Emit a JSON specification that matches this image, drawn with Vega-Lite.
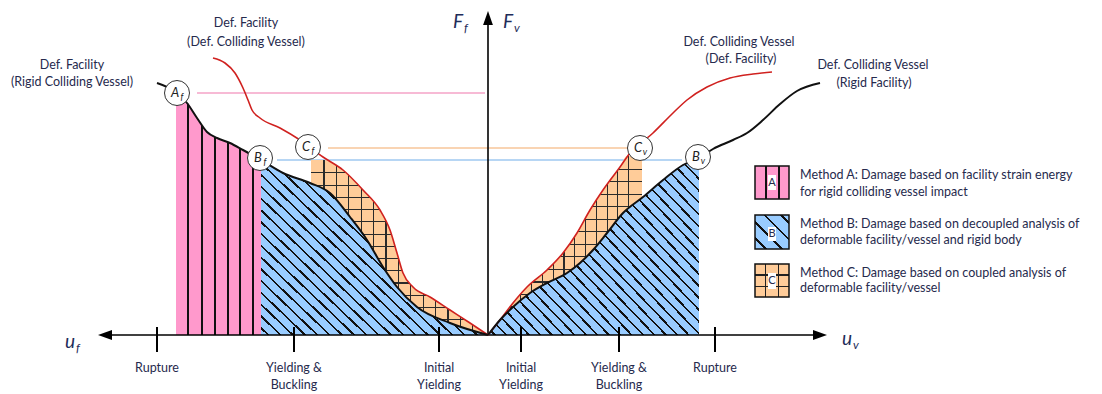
{
"$schema":"https://vega.github.io/schema/vega-lite/v6.json",
"width":1102,"height":394,"padding":0,"autosize":{"type":"none"},
"background":"white",
"config":{"view":{"stroke":null}},
"encoding":{
 "x":{"field":"u","type":"quantitative","scale":{"domain":[-488,614],"nice":false,"zero":false},"axis":null},
 "y":{"field":"F","type":"quantitative","stack":null,"scale":{"domain":[-59,335],"nice":false,"zero":false},"axis":null}
},
"datasets":{
 "black":[
  {"s":"L","u":-331,"F":252},{"s":"L","u":-311,"F":242},{"s":"L","u":-301,"F":232},{"s":"L","u":-291,"F":217},{"s":"L","u":-281,"F":203},{"s":"L","u":-271,"F":197},{"s":"L","u":-258,"F":192},{"s":"L","u":-245,"F":185},{"s":"L","u":-227,"F":175},{"s":"L","u":-205,"F":162},{"s":"L","u":-178,"F":152},{"s":"L","u":-158,"F":142},{"s":"L","u":-138,"F":118},{"s":"L","u":-121,"F":95},{"s":"L","u":-105,"F":68},{"s":"L","u":-91,"F":48},{"s":"L","u":-71,"F":28},{"s":"L","u":-38,"F":12},{"s":"L","u":0,"F":0},
  {"s":"R","u":0,"F":0},{"s":"R","u":12,"F":15},{"s":"R","u":25,"F":28},{"s":"R","u":42,"F":42},{"s":"R","u":59,"F":52},{"s":"R","u":79,"F":62},{"s":"R","u":92,"F":72},{"s":"R","u":105,"F":85},{"s":"R","u":119,"F":102},{"s":"R","u":135,"F":122},{"s":"R","u":155,"F":138},{"s":"R","u":175,"F":155},{"s":"R","u":195,"F":170},{"s":"R","u":211,"F":177},{"s":"R","u":225,"F":186},{"s":"R","u":245,"F":195},{"s":"R","u":259,"F":202},{"s":"R","u":275,"F":215},{"s":"R","u":292,"F":231},{"s":"R","u":309,"F":244},{"s":"R","u":332,"F":252}
 ],
 "blue":[
  {"s":"L","u":-227,"F":175},{"s":"L","u":-205,"F":162},{"s":"L","u":-178,"F":152},{"s":"L","u":-158,"F":142},{"s":"L","u":-138,"F":118},{"s":"L","u":-121,"F":95},{"s":"L","u":-105,"F":68},{"s":"L","u":-91,"F":48},{"s":"L","u":-71,"F":28},{"s":"L","u":-38,"F":12},{"s":"L","u":0,"F":0},
  {"s":"R","u":0,"F":0},{"s":"R","u":12,"F":15},{"s":"R","u":25,"F":28},{"s":"R","u":42,"F":42},{"s":"R","u":59,"F":52},{"s":"R","u":79,"F":62},{"s":"R","u":92,"F":72},{"s":"R","u":105,"F":85},{"s":"R","u":119,"F":102},{"s":"R","u":135,"F":122},{"s":"R","u":155,"F":138},{"s":"R","u":175,"F":155},{"s":"R","u":195,"F":170},{"s":"R","u":211,"F":177}
 ],
 "pink":[
  {"u":-312,"F":233},{"u":-301,"F":232},{"u":-291,"F":217},{"u":-281,"F":203},{"u":-271,"F":197},{"u":-258,"F":192},{"u":-245,"F":185},{"u":-227,"F":175}
 ],
 "red":[
  {"s":"L","u":-275,"F":277},{"s":"L","u":-263,"F":272},{"s":"L","u":-253,"F":262},{"s":"L","u":-245,"F":247},{"s":"L","u":-240,"F":235},{"s":"L","u":-236,"F":225},{"s":"L","u":-228,"F":217},{"s":"L","u":-208,"F":207},{"s":"L","u":-188,"F":195},{"s":"L","u":-165,"F":178},{"s":"L","u":-145,"F":165},{"s":"L","u":-125,"F":145},{"s":"L","u":-108,"F":125},{"s":"L","u":-98,"F":105},{"s":"L","u":-91,"F":82},{"s":"L","u":-85,"F":62},{"s":"L","u":-75,"F":48},{"s":"L","u":-58,"F":38},{"s":"L","u":-38,"F":25},{"s":"L","u":-18,"F":12},{"s":"L","u":0,"F":0},
  {"s":"R","u":0,"F":0},{"s":"R","u":12,"F":15},{"s":"R","u":25,"F":32},{"s":"R","u":39,"F":48},{"s":"R","u":59,"F":65},{"s":"R","u":75,"F":82},{"s":"R","u":89,"F":102},{"s":"R","u":102,"F":125},{"s":"R","u":115,"F":145},{"s":"R","u":132,"F":168},{"s":"R","u":142,"F":182},{"s":"R","u":165,"F":202},{"s":"R","u":185,"F":222},{"s":"R","u":199,"F":235},{"s":"R","u":219,"F":248},{"s":"R","u":242,"F":257},{"s":"R","u":265,"F":261},{"s":"R","u":284,"F":263}
 ],
 "orange":[
  {"s":"L","u":-177,"F":175},{"s":"L","u":-164,"F":175},{"s":"L","u":-145,"F":165},{"s":"L","u":-125,"F":145},{"s":"L","u":-108,"F":125},{"s":"L","u":-98,"F":105},{"s":"L","u":-91,"F":82},{"s":"L","u":-85,"F":62},{"s":"L","u":-75,"F":48},{"s":"L","u":-58,"F":38},{"s":"L","u":-38,"F":25},{"s":"L","u":-18,"F":12},{"s":"L","u":0,"F":0},
  {"s":"R","u":0,"F":0},{"s":"R","u":12,"F":15},{"s":"R","u":25,"F":32},{"s":"R","u":39,"F":48},{"s":"R","u":59,"F":65},{"s":"R","u":75,"F":82},{"s":"R","u":89,"F":102},{"s":"R","u":102,"F":125},{"s":"R","u":115,"F":145},{"s":"R","u":132,"F":168},{"s":"R","u":139,"F":179},{"s":"R","u":154,"F":179}
 ],
 "refs":[
  {"m":"A","u":-291,"u2":-3,"F":242},{"m":"C","u":-160,"u2":140,"F":187},{"m":"B","u":-211,"u2":194,"F":175}
 ],
 "axes":[
  {"u":-383,"u2":332,"F":0,"F2":0},{"u":0,"u2":0,"F":0,"F2":317}
 ],
 "ticks":[
  {"u":-331,"F":8,"F2":-17},{"u":-194,"F":8,"F2":-17},{"u":-49,"F":8,"F2":-17},{"u":33,"F":8,"F2":-17},{"u":131,"F":8,"F2":-17},{"u":227,"F":8,"F2":-17}
 ],
 "arrows":[
  {"d":"left","u":-383,"F":0},{"d":"right","u":332,"F":0},{"d":"up","u":0,"F":317}
 ],
 "circles":[
  {"u":-311,"F":242,"t":"A","s":"f"},{"u":-228,"F":177,"t":"B","s":"f"},{"u":-180,"F":188,"t":"C","s":"f"},{"u":152,"F":187,"t":"C","s":"v"},{"u":210,"F":178,"t":"B","s":"v"}
 ],
 "labels":[
  {"u":-242,"F":312,"t":"Def. Facility"},{"u":-242,"F":293,"t":"(Def. Colliding Vessel)"},
  {"u":-416,"F":270,"t":"Def. Facility"},{"u":-416,"F":253,"t":"(Rigid Colliding Vessel)"},
  {"u":251,"F":293,"t":"Def. Colliding Vessel"},{"u":253,"F":276,"t":"(Def. Facility)"},
  {"u":385,"F":270,"t":"Def. Colliding Vessel"},{"u":386,"F":252,"t":"(Rigid Facility)"},
  {"u":-331,"F":-33,"t":"Rupture"},
  {"u":-194,"F":-33,"t":"Yielding &"},{"u":-194,"F":-50,"t":"Buckling"},
  {"u":-49,"F":-33,"t":"Initial"},{"u":-49,"F":-50,"t":"Yielding"},
  {"u":33,"F":-33,"t":"Initial"},{"u":33,"F":-50,"t":"Yielding"},
  {"u":131,"F":-33,"t":"Yielding &"},{"u":131,"F":-50,"t":"Buckling"},
  {"u":227,"F":-33,"t":"Rupture"}
 ],
 "legendText":[
  {"u":312,"F":160,"t":"Method A: Damage based on facility strain energy"},
  {"u":312,"F":143,"t":"for rigid colliding vessel impact"},
  {"u":312,"F":111,"t":"Method B: Damage based on decoupled analysis of"},
  {"u":312,"F":95,"t":"deformable facility/vessel and rigid body"},
  {"u":312,"F":62,"t":"Method C: Damage based on coupled analysis of"},
  {"u":312,"F":47,"t":"deformable facility/vessel"}
 ],
 "lbox":[
  {"m":"A","u":267,"u2":301,"F":169,"F2":136},
  {"m":"B","u":267,"u2":301,"F":120,"F2":86},
  {"m":"C","u":267,"u2":301,"F":71,"F2":38}
 ],
 "lwhite":[
  {"u":280,"u2":288,"F":145,"F2":160},
  {"u":280,"u2":288,"F":94,"F2":108},
  {"u":280,"u2":288,"F":46,"F2":62}
 ],
 "lletters":[
  {"u":284,"F":152.5,"t":"A"},{"u":284,"F":101,"t":"B"},{"u":284,"F":54,"t":"C"}
 ],
 "math":[
  {"u":-35,"F":307,"t":"F","s":"f"},{"u":15,"F":307,"t":"F","s":"v"},{"u":-423,"F":-13,"t":"u","s":"f"},{"u":354,"F":-10,"t":"u","s":"v"}
 ]
},
"layer":[
 {"data":{"name":"refs"},"mark":{"type":"rule","strokeWidth":1.3},"encoding":{"x2":{"field":"u2"},"color":{"field":"m","type":"nominal","scale":{"domain":["A","B","C"],"range":["#f5a3c7","#9fc8f0","#f7c69a"]},"legend":null}}},
 {"data":{"name":"orange"},"mark":{"type":"area","interpolate":"monotone","fill":{"gradient":"linear","x1":0,"y1":0,"x2":1,"y2":0,"stops":[
  {"offset":0,"color":"#fc9"},
  {"offset":0.07,"color":"#fc9"},{"offset":0.07,"color":"#2a2a2a"},{"offset":0.077,"color":"#2a2a2a"},{"offset":0.077,"color":"#fc9"},
  {"offset":0.14,"color":"#fc9"},{"offset":0.14,"color":"#2a2a2a"},{"offset":0.147,"color":"#2a2a2a"},{"offset":0.147,"color":"#fc9"},
  {"offset":0.21,"color":"#fc9"},{"offset":0.21,"color":"#2a2a2a"},{"offset":0.217,"color":"#2a2a2a"},{"offset":0.217,"color":"#fc9"},
  {"offset":0.28,"color":"#fc9"},{"offset":0.28,"color":"#2a2a2a"},{"offset":0.287,"color":"#2a2a2a"},{"offset":0.287,"color":"#fc9"},
  {"offset":0.35,"color":"#fc9"},{"offset":0.35,"color":"#2a2a2a"},{"offset":0.357,"color":"#2a2a2a"},{"offset":0.357,"color":"#fc9"},
  {"offset":0.42,"color":"#fc9"},{"offset":0.42,"color":"#2a2a2a"},{"offset":0.427,"color":"#2a2a2a"},{"offset":0.427,"color":"#fc9"},
  {"offset":0.49,"color":"#fc9"},{"offset":0.49,"color":"#2a2a2a"},{"offset":0.497,"color":"#2a2a2a"},{"offset":0.497,"color":"#fc9"},
  {"offset":0.56,"color":"#fc9"},{"offset":0.56,"color":"#2a2a2a"},{"offset":0.567,"color":"#2a2a2a"},{"offset":0.567,"color":"#fc9"},
  {"offset":0.63,"color":"#fc9"},{"offset":0.63,"color":"#2a2a2a"},{"offset":0.637,"color":"#2a2a2a"},{"offset":0.637,"color":"#fc9"},
  {"offset":0.7,"color":"#fc9"},{"offset":0.7,"color":"#2a2a2a"},{"offset":0.707,"color":"#2a2a2a"},{"offset":0.707,"color":"#fc9"},
  {"offset":0.77,"color":"#fc9"},{"offset":0.77,"color":"#2a2a2a"},{"offset":0.777,"color":"#2a2a2a"},{"offset":0.777,"color":"#fc9"},
  {"offset":0.84,"color":"#fc9"},{"offset":0.84,"color":"#2a2a2a"},{"offset":0.847,"color":"#2a2a2a"},{"offset":0.847,"color":"#fc9"},
  {"offset":0.91,"color":"#fc9"},{"offset":0.91,"color":"#2a2a2a"},{"offset":0.917,"color":"#2a2a2a"},{"offset":0.917,"color":"#fc9"},
  {"offset":1,"color":"#fc9"}]}},"encoding":{"y2":{"datum":0},"detail":{"field":"s"}}},
 {"data":{"name":"orange"},"mark":{"type":"area","interpolate":"monotone","fill":{"gradient":"linear","x1":0,"y1":0,"x2":0,"y2":1,"stops":[
  {"offset":0,"color":"rgba(0,0,0,0)"},
  {"offset":0.07,"color":"rgba(0,0,0,0)"},{"offset":0.07,"color":"#2a2a2a"},{"offset":0.077,"color":"#2a2a2a"},{"offset":0.077,"color":"rgba(0,0,0,0)"},
  {"offset":0.14,"color":"rgba(0,0,0,0)"},{"offset":0.14,"color":"#2a2a2a"},{"offset":0.147,"color":"#2a2a2a"},{"offset":0.147,"color":"rgba(0,0,0,0)"},
  {"offset":0.21,"color":"rgba(0,0,0,0)"},{"offset":0.21,"color":"#2a2a2a"},{"offset":0.217,"color":"#2a2a2a"},{"offset":0.217,"color":"rgba(0,0,0,0)"},
  {"offset":0.28,"color":"rgba(0,0,0,0)"},{"offset":0.28,"color":"#2a2a2a"},{"offset":0.287,"color":"#2a2a2a"},{"offset":0.287,"color":"rgba(0,0,0,0)"},
  {"offset":0.35,"color":"rgba(0,0,0,0)"},{"offset":0.35,"color":"#2a2a2a"},{"offset":0.357,"color":"#2a2a2a"},{"offset":0.357,"color":"rgba(0,0,0,0)"},
  {"offset":0.42,"color":"rgba(0,0,0,0)"},{"offset":0.42,"color":"#2a2a2a"},{"offset":0.427,"color":"#2a2a2a"},{"offset":0.427,"color":"rgba(0,0,0,0)"},
  {"offset":0.49,"color":"rgba(0,0,0,0)"},{"offset":0.49,"color":"#2a2a2a"},{"offset":0.497,"color":"#2a2a2a"},{"offset":0.497,"color":"rgba(0,0,0,0)"},
  {"offset":0.56,"color":"rgba(0,0,0,0)"},{"offset":0.56,"color":"#2a2a2a"},{"offset":0.567,"color":"#2a2a2a"},{"offset":0.567,"color":"rgba(0,0,0,0)"},
  {"offset":0.63,"color":"rgba(0,0,0,0)"},{"offset":0.63,"color":"#2a2a2a"},{"offset":0.637,"color":"#2a2a2a"},{"offset":0.637,"color":"rgba(0,0,0,0)"},
  {"offset":0.7,"color":"rgba(0,0,0,0)"},{"offset":0.7,"color":"#2a2a2a"},{"offset":0.707,"color":"#2a2a2a"},{"offset":0.707,"color":"rgba(0,0,0,0)"},
  {"offset":0.77,"color":"rgba(0,0,0,0)"},{"offset":0.77,"color":"#2a2a2a"},{"offset":0.777,"color":"#2a2a2a"},{"offset":0.777,"color":"rgba(0,0,0,0)"},
  {"offset":0.84,"color":"rgba(0,0,0,0)"},{"offset":0.84,"color":"#2a2a2a"},{"offset":0.847,"color":"#2a2a2a"},{"offset":0.847,"color":"rgba(0,0,0,0)"},
  {"offset":0.91,"color":"rgba(0,0,0,0)"},{"offset":0.91,"color":"#2a2a2a"},{"offset":0.917,"color":"#2a2a2a"},{"offset":0.917,"color":"rgba(0,0,0,0)"},
  {"offset":1,"color":"rgba(0,0,0,0)"}]}},"encoding":{"y2":{"datum":0},"detail":{"field":"s"}}},
 {"data":{"name":"blue"},"mark":{"type":"area","interpolate":"monotone","fill":{"gradient":"linear","x1":0,"y1":1,"x2":1.095,"y2":0.12,"stops":[
  {"offset":0,"color":"#9cf"},
  {"offset":0.015,"color":"#9cf"},{"offset":0.015,"color":"#111"},{"offset":0.021,"color":"#111"},{"offset":0.021,"color":"#9cf"},
  {"offset":0.045,"color":"#9cf"},{"offset":0.045,"color":"#111"},{"offset":0.051,"color":"#111"},{"offset":0.051,"color":"#9cf"},
  {"offset":0.075,"color":"#9cf"},{"offset":0.075,"color":"#111"},{"offset":0.081,"color":"#111"},{"offset":0.081,"color":"#9cf"},
  {"offset":0.105,"color":"#9cf"},{"offset":0.105,"color":"#111"},{"offset":0.111,"color":"#111"},{"offset":0.111,"color":"#9cf"},
  {"offset":0.135,"color":"#9cf"},{"offset":0.135,"color":"#111"},{"offset":0.141,"color":"#111"},{"offset":0.141,"color":"#9cf"},
  {"offset":0.165,"color":"#9cf"},{"offset":0.165,"color":"#111"},{"offset":0.171,"color":"#111"},{"offset":0.171,"color":"#9cf"},
  {"offset":0.195,"color":"#9cf"},{"offset":0.195,"color":"#111"},{"offset":0.201,"color":"#111"},{"offset":0.201,"color":"#9cf"},
  {"offset":0.225,"color":"#9cf"},{"offset":0.225,"color":"#111"},{"offset":0.231,"color":"#111"},{"offset":0.231,"color":"#9cf"},
  {"offset":0.255,"color":"#9cf"},{"offset":0.255,"color":"#111"},{"offset":0.261,"color":"#111"},{"offset":0.261,"color":"#9cf"},
  {"offset":0.285,"color":"#9cf"},{"offset":0.285,"color":"#111"},{"offset":0.291,"color":"#111"},{"offset":0.291,"color":"#9cf"},
  {"offset":0.315,"color":"#9cf"},{"offset":0.315,"color":"#111"},{"offset":0.321,"color":"#111"},{"offset":0.321,"color":"#9cf"},
  {"offset":0.345,"color":"#9cf"},{"offset":0.345,"color":"#111"},{"offset":0.351,"color":"#111"},{"offset":0.351,"color":"#9cf"},
  {"offset":0.375,"color":"#9cf"},{"offset":0.375,"color":"#111"},{"offset":0.381,"color":"#111"},{"offset":0.381,"color":"#9cf"},
  {"offset":0.405,"color":"#9cf"},{"offset":0.405,"color":"#111"},{"offset":0.411,"color":"#111"},{"offset":0.411,"color":"#9cf"},
  {"offset":0.435,"color":"#9cf"},{"offset":0.435,"color":"#111"},{"offset":0.441,"color":"#111"},{"offset":0.441,"color":"#9cf"},
  {"offset":0.465,"color":"#9cf"},{"offset":0.465,"color":"#111"},{"offset":0.471,"color":"#111"},{"offset":0.471,"color":"#9cf"},
  {"offset":0.495,"color":"#9cf"},{"offset":0.495,"color":"#111"},{"offset":0.501,"color":"#111"},{"offset":0.501,"color":"#9cf"},
  {"offset":0.525,"color":"#9cf"},{"offset":0.525,"color":"#111"},{"offset":0.531,"color":"#111"},{"offset":0.531,"color":"#9cf"},
  {"offset":0.555,"color":"#9cf"},{"offset":0.555,"color":"#111"},{"offset":0.561,"color":"#111"},{"offset":0.561,"color":"#9cf"},
  {"offset":0.585,"color":"#9cf"},{"offset":0.585,"color":"#111"},{"offset":0.591,"color":"#111"},{"offset":0.591,"color":"#9cf"},
  {"offset":0.615,"color":"#9cf"},{"offset":0.615,"color":"#111"},{"offset":0.621,"color":"#111"},{"offset":0.621,"color":"#9cf"},
  {"offset":0.645,"color":"#9cf"},{"offset":0.645,"color":"#111"},{"offset":0.651,"color":"#111"},{"offset":0.651,"color":"#9cf"},
  {"offset":0.675,"color":"#9cf"},{"offset":0.675,"color":"#111"},{"offset":0.681,"color":"#111"},{"offset":0.681,"color":"#9cf"},
  {"offset":0.705,"color":"#9cf"},{"offset":0.705,"color":"#111"},{"offset":0.711,"color":"#111"},{"offset":0.711,"color":"#9cf"},
  {"offset":0.735,"color":"#9cf"},{"offset":0.735,"color":"#111"},{"offset":0.741,"color":"#111"},{"offset":0.741,"color":"#9cf"},
  {"offset":0.765,"color":"#9cf"},{"offset":0.765,"color":"#111"},{"offset":0.771,"color":"#111"},{"offset":0.771,"color":"#9cf"},
  {"offset":0.795,"color":"#9cf"},{"offset":0.795,"color":"#111"},{"offset":0.801,"color":"#111"},{"offset":0.801,"color":"#9cf"},
  {"offset":0.825,"color":"#9cf"},{"offset":0.825,"color":"#111"},{"offset":0.831,"color":"#111"},{"offset":0.831,"color":"#9cf"},
  {"offset":0.855,"color":"#9cf"},{"offset":0.855,"color":"#111"},{"offset":0.861,"color":"#111"},{"offset":0.861,"color":"#9cf"},
  {"offset":0.885,"color":"#9cf"},{"offset":0.885,"color":"#111"},{"offset":0.891,"color":"#111"},{"offset":0.891,"color":"#9cf"},
  {"offset":0.915,"color":"#9cf"},{"offset":0.915,"color":"#111"},{"offset":0.921,"color":"#111"},{"offset":0.921,"color":"#9cf"},
  {"offset":0.945,"color":"#9cf"},{"offset":0.945,"color":"#111"},{"offset":0.951,"color":"#111"},{"offset":0.951,"color":"#9cf"},
  {"offset":0.975,"color":"#9cf"},{"offset":0.975,"color":"#111"},{"offset":0.981,"color":"#111"},{"offset":0.981,"color":"#9cf"},
  {"offset":1,"color":"#9cf"}]}},"encoding":{"y2":{"datum":0},"detail":{"field":"s"}}},
 {"data":{"name":"pink"},"mark":{"type":"area","interpolate":"monotone","fill":{"gradient":"linear","x1":0,"y1":0,"x2":1,"y2":0,"stops":[
  {"offset":0,"color":"#f9c"},
  {"offset":0.129,"color":"#f9c"},{"offset":0.129,"color":"#111"},{"offset":0.153,"color":"#111"},{"offset":0.153,"color":"#f9c"},
  {"offset":0.294,"color":"#f9c"},{"offset":0.294,"color":"#111"},{"offset":0.318,"color":"#111"},{"offset":0.318,"color":"#f9c"},
  {"offset":0.447,"color":"#f9c"},{"offset":0.447,"color":"#111"},{"offset":0.471,"color":"#111"},{"offset":0.471,"color":"#f9c"},
  {"offset":0.6,"color":"#f9c"},{"offset":0.6,"color":"#111"},{"offset":0.624,"color":"#111"},{"offset":0.624,"color":"#f9c"},
  {"offset":0.741,"color":"#f9c"},{"offset":0.741,"color":"#111"},{"offset":0.765,"color":"#111"},{"offset":0.765,"color":"#f9c"},
  {"offset":0.894,"color":"#f9c"},{"offset":0.894,"color":"#111"},{"offset":0.918,"color":"#111"},{"offset":0.918,"color":"#f9c"},
  {"offset":1,"color":"#f9c"}]}},"encoding":{"y2":{"datum":0}}},
 {"data":{"name":"axes"},"mark":{"type":"rule","strokeWidth":1.6,"color":"#000"},"encoding":{"x2":{"field":"u2"},"y2":{"field":"F2"}}},
 {"data":{"name":"ticks"},"mark":{"type":"rule","strokeWidth":2,"color":"#000"},"encoding":{"y2":{"field":"F2"}}},
 {"data":{"name":"arrows"},"mark":{"type":"point","filled":true,"color":"#000","opacity":1,"size":196,"strokeWidth":0},"encoding":{"shape":{"field":"d","type":"nominal","scale":{"domain":["left","right","up"],"range":["M -1 0 L 1 -0.7 L 1 0.7 Z","M 1 0 L -1 -0.7 L -1 0.7 Z","M 0 -1 L -0.7 1 L 0.7 1 Z"]},"legend":null}}},
 {"data":{"name":"red"},"mark":{"type":"line","interpolate":"monotone","color":"#d0211f","strokeWidth":1.6},"encoding":{"detail":{"field":"s"}}},
 {"data":{"name":"black"},"mark":{"type":"line","interpolate":"monotone","color":"#111","strokeWidth":2},"encoding":{"detail":{"field":"s"}}},
 {"data":{"name":"circles"},"mark":{"type":"point","shape":"circle","filled":true,"fill":"#fff","stroke":"#333","strokeWidth":1,"size":625,"opacity":1}},
 {"data":{"name":"circles"},"mark":{"type":"text","font":"Lato","fontStyle":"italic","fontSize":13,"dx":-2,"align":"center","baseline":"middle","color":"#222"},"encoding":{"text":{"field":"t"}}},
 {"data":{"name":"circles"},"mark":{"type":"text","font":"Lato","fontStyle":"italic","fontSize":9,"dx":5,"dy":4,"align":"center","baseline":"middle","color":"#222"},"encoding":{"text":{"field":"s"}}},
 {"data":{"name":"labels"},"mark":{"type":"text","font":"Lato","fontSize":12.5,"align":"center","baseline":"middle","color":"#262a4d"},"encoding":{"text":{"field":"t"}}},
 {"data":{"name":"legendText"},"mark":{"type":"text","font":"Lato","fontSize":12.5,"align":"left","baseline":"middle","color":"#262a4d"},"encoding":{"text":{"field":"t"}}},
 {"data":{"name":"lbox"},"transform":[{"filter":"datum.m==='A'"}],"mark":{"type":"rect","fill":{"gradient":"linear","x1":0,"y1":0,"x2":1,"y2":0,"stops":[
  {"offset":0,"color":"#f9c"},{"offset":0.29,"color":"#f9c"},{"offset":0.29,"color":"#111"},{"offset":0.35,"color":"#111"},{"offset":0.35,"color":"#f9c"},{"offset":0.67,"color":"#f9c"},{"offset":0.67,"color":"#111"},{"offset":0.73,"color":"#111"},{"offset":0.73,"color":"#f9c"},{"offset":1,"color":"#f9c"}]}},"encoding":{"x2":{"field":"u2"},"y2":{"field":"F2"}}},
 {"data":{"name":"lbox"},"transform":[{"filter":"datum.m==='B'"}],"mark":{"type":"rect","fill":{"gradient":"linear","x1":0,"y1":1,"x2":1,"y2":0,"stops":[
  {"offset":0,"color":"#9cf"},{"offset":0.14,"color":"#9cf"},{"offset":0.14,"color":"#111"},{"offset":0.18,"color":"#111"},{"offset":0.18,"color":"#9cf"},{"offset":0.38,"color":"#9cf"},{"offset":0.38,"color":"#111"},{"offset":0.42,"color":"#111"},{"offset":0.42,"color":"#9cf"},{"offset":0.62,"color":"#9cf"},{"offset":0.62,"color":"#111"},{"offset":0.66,"color":"#111"},{"offset":0.66,"color":"#9cf"},{"offset":0.86,"color":"#9cf"},{"offset":0.86,"color":"#111"},{"offset":0.9,"color":"#111"},{"offset":0.9,"color":"#9cf"},{"offset":1,"color":"#9cf"}]}},"encoding":{"x2":{"field":"u2"},"y2":{"field":"F2"}}},
 {"data":{"name":"lbox"},"transform":[{"filter":"datum.m==='C'"}],"mark":{"type":"rect","fill":{"gradient":"linear","x1":0,"y1":0,"x2":1,"y2":0,"stops":[
  {"offset":0,"color":"#fc9"},{"offset":0.29,"color":"#fc9"},{"offset":0.29,"color":"#222"},{"offset":0.33,"color":"#222"},{"offset":0.33,"color":"#fc9"},{"offset":0.67,"color":"#fc9"},{"offset":0.67,"color":"#222"},{"offset":0.71,"color":"#222"},{"offset":0.71,"color":"#fc9"},{"offset":1,"color":"#fc9"}]}},"encoding":{"x2":{"field":"u2"},"y2":{"field":"F2"}}},
 {"data":{"name":"lbox"},"transform":[{"filter":"datum.m==='C'"}],"mark":{"type":"rect","fill":{"gradient":"linear","x1":0,"y1":0,"x2":0,"y2":1,"stops":[
  {"offset":0,"color":"rgba(0,0,0,0)"},{"offset":0.31,"color":"rgba(0,0,0,0)"},{"offset":0.31,"color":"#222"},{"offset":0.35,"color":"#222"},{"offset":0.35,"color":"rgba(0,0,0,0)"},{"offset":0.66,"color":"rgba(0,0,0,0)"},{"offset":0.66,"color":"#222"},{"offset":0.7,"color":"#222"},{"offset":0.7,"color":"rgba(0,0,0,0)"},{"offset":1,"color":"rgba(0,0,0,0)"}]}},"encoding":{"x2":{"field":"u2"},"y2":{"field":"F2"}}},
 {"data":{"name":"lbox"},"mark":{"type":"rect","fillOpacity":0,"stroke":"#111","strokeWidth":1.5},"encoding":{"x2":{"field":"u2"},"y2":{"field":"F2"}}},
 {"data":{"name":"lwhite"},"mark":{"type":"rect","color":"#fff","opacity":1},"encoding":{"x2":{"field":"u2"},"y2":{"field":"F2"}}},
 {"data":{"name":"lletters"},"mark":{"type":"text","font":"Lato","fontSize":11,"align":"center","baseline":"middle","color":"#262a4d"},"encoding":{"text":{"field":"t"}}},
 {"data":{"name":"math"},"mark":{"type":"text","font":"Lato","fontStyle":"italic","fontSize":19,"align":"left","baseline":"alphabetic","color":"#1f2d5a"},"encoding":{"text":{"field":"t"}}},
 {"data":{"name":"math"},"mark":{"type":"text","font":"Lato","fontStyle":"italic","fontSize":12,"dx":11,"dy":4,"align":"left","baseline":"alphabetic","color":"#1f2d5a"},"encoding":{"text":{"field":"s"}}}
]
}
